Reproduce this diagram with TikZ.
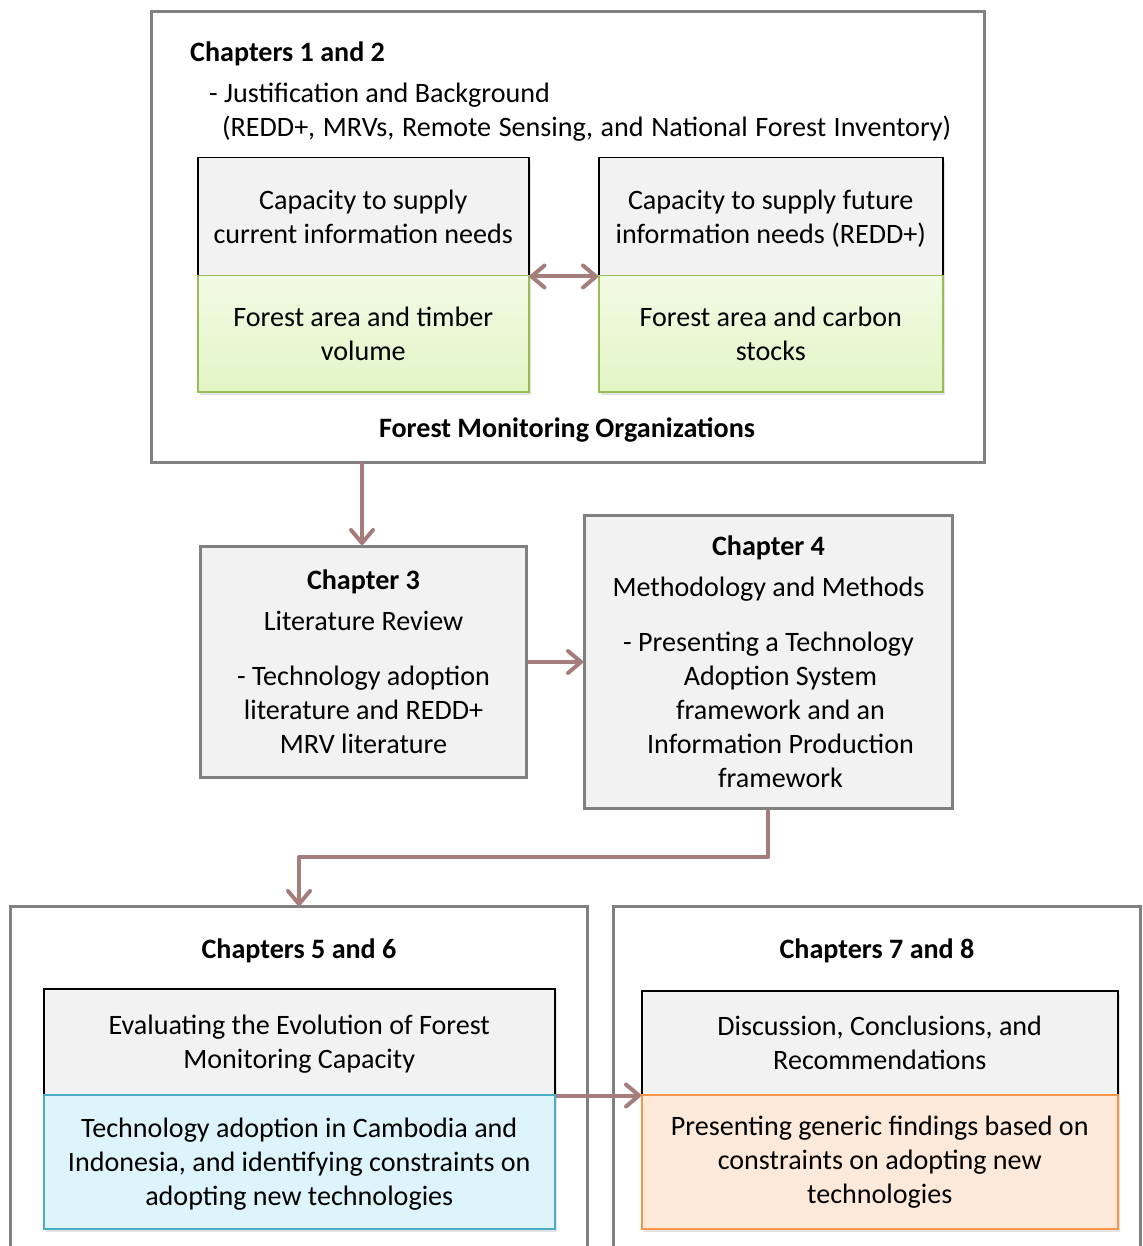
\documentclass[tikz,border=0pt]{standalone}
\usepackage{fontspec}
\setmainfont{Carlito}
\usetikzlibrary{arrows.meta,shadows,positioning}

\definecolor{framegray}{RGB}{128,128,128}
\definecolor{headfill}{RGB}{242,242,242}
\definecolor{flowc}{RGB}{166,125,125}
\definecolor{greenline}{RGB}{155,187,89}
\definecolor{greentop}{RGB}{242,251,228}
\definecolor{greenbot}{RGB}{226,245,197}
\definecolor{blueline}{RGB}{75,172,198}
\definecolor{bluefill}{RGB}{222,244,252}
\definecolor{orangeline}{RGB}{247,150,70}
\definecolor{orangefill}{RGB}{253,233,217}

\newcommand{\bodysize}{\fontsize{28.1}{34}\selectfont}

\tikzset{
  txt/.style={font=\bodysize, inner sep=0pt, align=center},
  boldtxt/.style={txt, font=\bodysize\bfseries},
  frame/.style={draw=framegray, line width=3pt, fill=white},
  chapbox/.style={draw=framegray, line width=3pt, fill=headfill, anchor=north west, txt},
  softshadow/.style={drop shadow={opacity=0.22, shadow xshift=2pt, shadow yshift=-3pt}},
  headbox/.style={draw=black, line width=1.5pt, fill=headfill, anchor=north west, txt, softshadow},
  greenbox/.style={draw=greenline, line width=1.5pt, top color=greentop, bottom color=greenbot,
    anchor=north west, txt, softshadow},
  bluebox/.style={draw=blueline, line width=1.5pt, fill=bluefill, anchor=north west, txt, softshadow},
  orangebox/.style={draw=orangeline, line width=1.5pt, fill=orangefill, anchor=north west, txt, softshadow},
  flow/.style={draw=flowc, line width=4pt, line join=round,
    -{Straight Barb[length=13pt,width=22pt,round]}},
  dflow/.style={draw=flowc, line width=4pt,
    {Straight Barb[length=13pt,width=22pt,round]}-{Straight Barb[length=13pt,width=22pt,round]}},
}

\begin{document}
\begin{tikzpicture}[x=1pt,y=-1pt]
\useasboundingbox (0,0) rectangle (1142,1246);
\clip (0,0) rectangle (1142,1246);

% Chapters 1 and 2
\draw[frame] (151,12) rectangle (984,462);
\node[boldtxt, anchor=base west] (t12) at (190,62) {Chapters 1 and 2};
\node[txt, anchor=base west] (just) at (209,103) {- Justification and Background};
\node[txt, anchor=base west] (redd) at (222,137)
  {\spaceskip=0.27em plus 0.1em\relax (REDD+, MRVs, Remote Sensing, and National Forest Inventory)};

\node[headbox, minimum width=331pt, minimum height=118pt] (curhead) at (197,157)
  {Capacity to supply\\current information needs};
\node[greenbox, minimum width=331pt, minimum height=116pt] (curgreen) at (197,275)
  {Forest area and timber\\volume};
\node[headbox, minimum width=344pt, minimum height=118pt] (futhead) at (598,157)
  {\strut Capacity to supply future\\information needs (REDD+)};
\node[greenbox, minimum width=344pt, minimum height=116pt] (futgreen) at (598,275)
  {Forest area and carbon\\stocks};

\node[boldtxt, anchor=base] (fmo) at (567,437) {Forest Monitoring Organizations};

\draw[dflow] (curhead.south east) -- (futhead.south west);

% Chapter 3
\node[chapbox, minimum width=326pt, minimum height=231pt] (ch3) at (199,545)
  {\textbf{Chapter 3}\\[7pt]Literature Review\\[21pt]- Technology adoption\\literature and REDD+\\MRV literature};

% Chapter 4
\node[chapbox, minimum width=368pt, minimum height=293pt] (ch4) at (583,514)
  {\textbf{Chapter 4}\\[7pt]Methodology and Methods\\[21pt]- Presenting a Technology\\
   \hspace*{24pt}Adoption System\\\hspace*{24pt}framework and an\\
   \hspace*{24pt}Information Production\\\hspace*{24pt}framework};

\coordinate (top12) at (362,462);
\draw[flow] (top12) -- (ch3.north -| top12);
\draw[flow] (ch3.east) -- (ch4.west |- ch3.east);

% Chapters 5 and 6
\draw[frame] (10,906) rectangle (587,1280);
\node[boldtxt, anchor=base] (t56) at (299,958) {Chapters 5 and 6};
\node[headbox, minimum width=511pt, minimum height=106pt] (evhead) at (43,988)
  {\strut Evaluating the Evolution of Forest\\Monitoring Capacity};
\node[bluebox, minimum width=511pt, minimum height=134pt] (evblue) at (43,1094)
  {\strut Technology adoption in Cambodia and\\Indonesia, and identifying constraints on\\adopting new technologies};

% Chapters 7 and 8
\draw[frame] (613,906) rectangle (1140,1280);
\node[boldtxt, anchor=base] (t78) at (877,958) {Chapters 7 and 8};
\node[headbox, minimum width=476pt, minimum height=104pt] (dchead) at (641,990)
  {Discussion, Conclusions, and\\Recommendations};
\node[orangebox, minimum width=476pt, minimum height=134pt] (dcorange) at (641,1094)
  {Presenting generic findings based on\\constraints on adopting new\\technologies};

% Chapter 4 to chapters 5 and 6
\coordinate (bend1) at (768,857);
\coordinate (bend2) at (299,857);
\draw[flow] (ch4.south -| bend1) -- (bend1) -- (bend2) -- (bend2 |- 0,906);

\draw[flow] (evhead.south east) -- (dchead.south west |- evhead.south east);
\end{tikzpicture}
\end{document}
